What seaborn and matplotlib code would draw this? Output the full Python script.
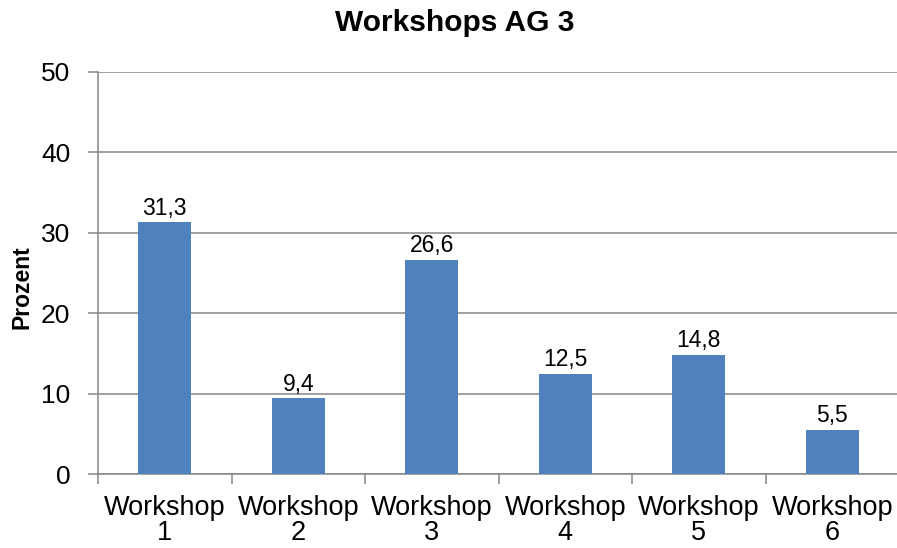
import pandas as pd
import numpy as np
import matplotlib.pyplot as plt
import seaborn as sns

# data
workshops = ["Workshop\n1", "Workshop\n2", "Workshop\n3", "Workshop\n4", "Workshop\n5", "Workshop\n6"]
prozent = [31.3, 9.4, 26.6, 12.5, 14.8, 5.5]
y_ticks = [0, 10, 20, 30, 40, 50]

df = pd.DataFrame({"workshop": workshops, "prozent": prozent})

sns.set_style("white")
plt.rcParams['font.family'] = ['Liberation Sans', 'DejaVu Sans']
plt.rcParams['text.color'] = 'black'
plt.rcParams['xtick.color'] = 'black'
plt.rcParams['ytick.color'] = 'black'
plt.rcParams['axes.labelcolor'] = 'black'

grid_col = "#868686"
bar_col = "#4F81BD"

fig = plt.figure(figsize=(8.97, 5.48), dpi=100)
ax = fig.add_axes([98 / 897, 1 - 474 / 548, 801 / 897, (474 - 72) / 548])

sns.barplot(data=df, x="workshop", y="prozent", color=bar_col, width=0.4,
            saturation=1, linewidth=0, ax=ax, zorder=3)

ax.set_xlim(-0.5, len(workshops) - 0.5)
ax.set_ylim(0, 50)
ax.set_yticks(y_ticks)
ax.yaxis.grid(True, color=grid_col, linewidth=1.1, zorder=0)
ax.set_axisbelow(True)

# labels over bars
labels = [f"{v:.1f}".replace(".", ",") for v in prozent]
ax.bar_label(ax.containers[0], labels=labels, fontsize=16.5, padding=2)

# spines
for s in ["top", "right"]:
    ax.spines[s].set_visible(False)
for s in ["left", "bottom"]:
    ax.spines[s].set_color(grid_col)
    ax.spines[s].set_linewidth(1.1)

# ticks
ax.tick_params(axis="y", length=7, width=1.1, color=grid_col, labelcolor="black",
               labelsize=19, pad=13, left=True)
ax.tick_params(axis="x", which="major", length=0, labelsize=19.5, pad=15, labelcolor="black")
ax.set_xticks(np.arange(-0.5, len(workshops) - 0.4, 1), minor=True)
ax.tick_params(axis="x", which="minor", length=7, width=1.1, color=grid_col, bottom=True)
for lbl in ax.get_xticklabels():
    lbl.set_linespacing(0.95)

ax.set_xlabel("")
ax.set_ylabel("")
fig.text(22 / 897, 1 - 287 / 548, "Prozent", rotation=90, ha="center", va="center",
         fontsize=16.5, fontweight="bold")
fig.text(0.507, 0.958, "Workshops AG 3", ha="center", va="center", fontsize=21.5, fontweight="bold")

plt.savefig("out.png", dpi=100)
